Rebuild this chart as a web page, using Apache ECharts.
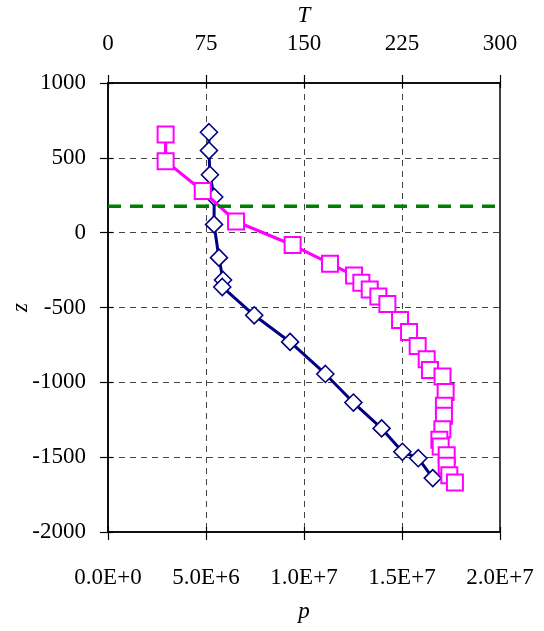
<!DOCTYPE html>
<html>
<head>
<meta charset="utf-8">
<script src="https://cdn.jsdelivr.net/npm/echarts@6/dist/echarts.min.js"></script>
<style>
  html, body { margin: 0; padding: 0; background: #fff; }
  #chart { width: 544px; height: 631px; }
</style>
</head>
<body>
<div id="chart"></div>
<script>
  // pressure profile (bottom axis), Pa vs depth z
  var pValues = [5.15e6, 5.15e6, 5.2e6, 5.42e6, 5.41e6, 5.66e6, 5.87e6, 5.83e6,
                 7.46e6, 9.29e6, 1.109e7, 1.252e7, 1.396e7, 1.502e7, 1.583e7, 1.657e7];
  var pDepths = [671, 549, 387, 238, 55, -167, -316, -363,
                 -552, -730, -944, -1135, -1308, -1464, -1507, -1640];

  // temperature profile (top axis)
  var tValues = [44.1, 44.1, 72.5, 98, 141.3, 169.9, 188.3, 193.9, 200.3, 206.9, 213.8,
                 223.5, 230.4, 237, 243.9, 246.4, 256, 258.4, 257.1, 257.1, 255.9,
                 253.6, 254.6, 259.2, 259.2, 261.2, 265.5];
  var tDepths = [656, 478, 278, 75, -83, -207, -287, -334, -379, -427, -477,
                 -583, -663, -757, -846, -918, -961, -1064, -1157, -1224, -1313,
                 -1384, -1429, -1487, -1558, -1620, -1669];

  var waterLevel = 177;
  var pTicks = [0, 2e7, 5e6];   // min, max, step
  var tTicks = [0, 300, 75];
  var zTicks = [-2000, 1000, 500];

  var font = 'Liberation Serif';
  var lblStyle = { fontFamily: font, fontSize: 23, color: '#000' };
  var nameStyle = { fontFamily: font, fontSize: 23, color: '#000', fontStyle: 'italic' };
  var gridDash = { color: '#444', width: 1, type: [6, 5] };

  function pair(xs, ys) {
    return xs.map(function (x, i) { return [x, ys[i]]; });
  }

  var chart = echarts.init(document.getElementById('chart'));
  var option = {
    animation: false,
    grid: { left: 108, right: 44, top: 83, bottom: 99, show: true,
            outerBoundsMode: 'none', containLabel: false,
            borderColor: '#000', borderWidth: 1.5, backgroundColor: 'transparent' },
    xAxis: [
      {
        type: 'value', position: 'bottom', min: pTicks[0], max: pTicks[1], interval: pTicks[2],
        name: 'p', nameLocation: 'middle', nameGap: 68, nameTextStyle: nameStyle,
        axisLine: { onZero: false, lineStyle: { color: '#000', width: 1.5 } },
        axisTick: { inside: false, length: 8, lineStyle: { color: '#000', width: 1.2 } },
        axisLabel: Object.assign({ margin: 34, formatter: function (v) {
          return v.toExponential(1).toUpperCase();
        } }, lblStyle),
        splitLine: { show: true, lineStyle: gridDash }
      },
      {
        type: 'value', position: 'top', min: tTicks[0], max: tTicks[1], interval: tTicks[2],
        name: 'T', nameLocation: 'middle', nameGap: 54, nameTextStyle: nameStyle,
        axisLine: { onZero: false, lineStyle: { color: '#000', width: 1.5 } },
        axisTick: { inside: false, length: 8, lineStyle: { color: '#000', width: 1.2 } },
        axisLabel: Object.assign({ margin: 28, formatter: function (v) { return String(v); } }, lblStyle),
        splitLine: { show: false }
      },
      // inner halves of the crossing ticks
      {
        type: 'value', position: 'bottom', min: pTicks[0], max: pTicks[1], interval: pTicks[2],
        axisLine: { show: false, onZero: false }, axisLabel: { show: false }, splitLine: { show: false },
        axisTick: { inside: true, length: 5, lineStyle: { color: '#000', width: 1.2 } }
      },
      {
        type: 'value', position: 'top', min: tTicks[0], max: tTicks[1], interval: tTicks[2],
        axisLine: { show: false, onZero: false }, axisLabel: { show: false }, splitLine: { show: false },
        axisTick: { inside: true, length: 5, lineStyle: { color: '#000', width: 1.2 } }
      }
    ],
    yAxis: [
      {
        type: 'value', position: 'left', min: zTicks[0], max: zTicks[1], interval: zTicks[2],
        name: 'z', nameLocation: 'middle', nameGap: 76, nameMoveOverlap: false,
        nameTextStyle: nameStyle,
        axisLine: { onZero: false, lineStyle: { color: '#000', width: 1.5 } },
        axisTick: { inside: false, length: 8, lineStyle: { color: '#000', width: 1.2 } },
        axisLabel: Object.assign({ margin: 22, formatter: function (v) { return String(v); } }, lblStyle),
        splitLine: { show: true, lineStyle: gridDash }
      },
      {
        type: 'value', position: 'left', min: zTicks[0], max: zTicks[1], interval: zTicks[2],
        axisLine: { show: false, onZero: false }, axisLabel: { show: false }, splitLine: { show: false },
        axisTick: { inside: true, length: 5, lineStyle: { color: '#000', width: 1.2 } }
      }
    ],
    series: [
      {
        name: 'p', type: 'line', xAxisIndex: 0, yAxisIndex: 0,
        data: pair(pValues, pDepths),
        symbol: 'diamond', symbolSize: 17,
        lineStyle: { color: '#000080', width: 3 },
        itemStyle: { color: '#fff', borderColor: '#000080', borderWidth: 1.6 },
        z: 3
      },
      {
        name: 'T', type: 'line', xAxisIndex: 1, yAxisIndex: 0,
        data: pair(tValues, tDepths),
        symbol: 'rect', symbolSize: 16,
        lineStyle: { color: '#ff00ff', width: 3.2 },
        itemStyle: { color: '#fff', borderColor: '#ff00ff', borderWidth: 2 },
        z: 4
      },
      {
        name: 'water', type: 'line', xAxisIndex: 0, yAxisIndex: 0,
        data: [[pTicks[0], waterLevel], [pTicks[1], waterLevel]],
        symbol: 'none',
        lineStyle: { color: '#008000', width: 3.5, type: [13, 9] },
        z: 5
      }
    ]
  };
  chart.setOption(option);
</script>
</body>
</html>
